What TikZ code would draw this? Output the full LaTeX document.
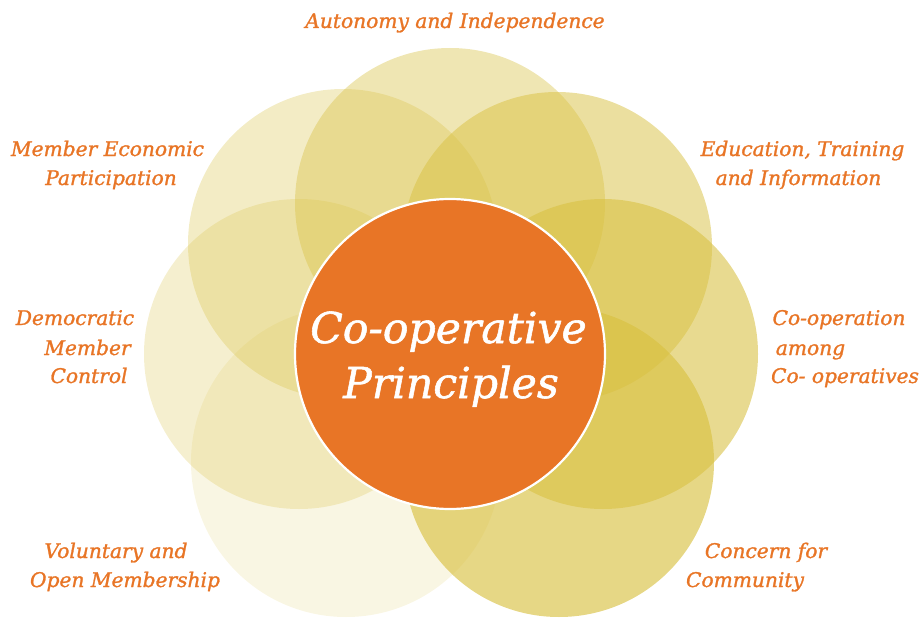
\documentclass[tikz,border=0pt]{standalone}
\usepackage{fontspec}
\setmainfont{DejaVu Serif}[ItalicFeatures={FakeBold=1.3}]
\begin{document}
\definecolor{petal}{HTML}{D8C040}
\definecolor{coop}{HTML}{E87526}
\begin{tikzpicture}[x=1pt,y=-1pt,
  petalc/.style={fill=petal,fill opacity=#1,draw=none},
  lbl/.style={text=coop,font=\itshape\fontsize{20.2}{20}\selectfont,anchor=base,inner sep=0pt},
  title/.style={text=white,font=\itshape\fontsize{42.6}{42}\selectfont,anchor=base,inner sep=0pt},
  core/.style={circle,fill=coop,draw=white,line width=2.2pt,minimum size=310pt,inner sep=0pt}]
\useasboundingbox (0,0) rectangle (924,618);
% seven overlapping petals, lightest first
\fill[petalc=0.15] (346,462) circle (155pt);
\fill[petalc=0.25] (299,354) circle (155pt);
\fill[petalc=0.30] (343,244) circle (155pt);
\fill[petalc=0.40] (450,203) circle (155pt);
\fill[petalc=0.50] (557,247) circle (155pt);
\fill[petalc=0.58] (603,354) circle (155pt);
\fill[petalc=0.64] (559,462) circle (155pt);
% central disc
\node[core] (c) at (450,354) {};
\node[title] (t1) at (448.5,343) {Co-operative};
\node[title] (t2) at (451,398) {Principles};
% principle labels
\node[lbl] (a1) at (455,28) {Autonomy and Independence};
\node[lbl] (m1) at (107.5,156) {Member Economic};
\node[lbl] (m2) at (111,185) {Participation};
\node[lbl] (d1) at (75,325) {Democratic};
\node[lbl] (d2) at (87.5,355) {Member};
\node[lbl] (d3) at (89,383) {Control};
\node[lbl] (e1) at (802.5,156) {Education, Training};
\node[lbl] (e2) at (798.5,185) {and Information};
\node[lbl] (o1) at (839,325) {Co-operation};
\node[lbl] (o2) at (810.5,355) {among};
\node[lbl] (o3) at (845,383) {Co- operatives};
\node[lbl] (v1) at (116,558) {Voluntary and};
\node[lbl] (v2) at (125,587) {Open Membership};
\node[lbl] (k1) at (766,558) {Concern for};
\node[lbl] (k2) at (745,587) {Community};
\end{tikzpicture}
\end{document}
